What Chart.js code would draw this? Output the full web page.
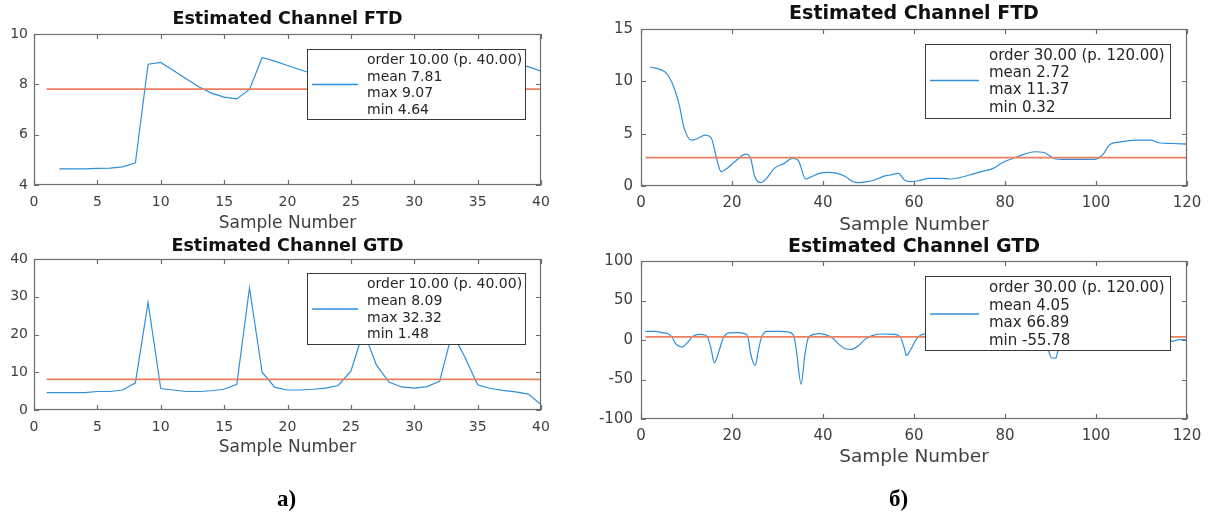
<!DOCTYPE html>
<html><head><meta charset="utf-8">
<script src="https://cdn.jsdelivr.net/npm/chart.js@4.4.0/dist/chart.umd.min.js"></script>
<style>
html,body{margin:0;padding:0;background:#fff;}
#wrap{position:relative;width:1210px;height:515px;overflow:hidden;background:#fff;}
canvas{position:absolute;left:0;top:0;}
.cap{position:absolute;font-family:"Liberation Serif","Times New Roman",serif;font-weight:bold;font-size:23px;line-height:23px;color:#000;}
</style></head>
<body><div id="wrap">
<canvas id="c1" width="1210" height="515"></canvas>
<canvas id="c2" width="1210" height="515"></canvas>
<canvas id="c3" width="1210" height="515"></canvas>
<canvas id="c4" width="1210" height="515"></canvas>
<div class="cap" style="left:277px;top:487px">а)</div>
<div class="cap" style="left:889px;top:487px">б)</div>
</div>
<script>
// ---- data ----
const titles = ['Estimated Channel FTD', 'Estimated Channel GTD', 'Estimated Channel FTD', 'Estimated Channel GTD'];
const xLabel = 'Sample Number';

// panel a) FTD
const ftdA_x = [2,3,4,5,6,7,8,9,10,11,12,13,14,15,16,17,18,19,20,21,22,23,24,25,26,27,28,29,30,31,32,33,34,35,36,37,38,39,40];
const ftdA_y = [4.64,4.64,4.64,4.66,4.67,4.72,4.88,8.80,8.87,8.55,8.22,7.90,7.65,7.49,7.42,7.80,9.07,8.92,8.75,8.58,8.42,8.28,8.12,7.95,8.90,8.80,8.65,8.50,8.35,8.20,8.05,8.95,8.90,8.85,8.80,8.76,8.73,8.70,8.52];
// panel a) GTD
const gtdA_x = [1,2,3,4,5,6,7,8,9,10,11,12,13,14,15,16,17,18,19,20,21,22,23,24,25,26,27,28,29,30,31,32,33,34,35,36,37,38,39,40];
const gtdA_y = [4.6,4.6,4.6,4.6,4.9,4.9,5.3,7.2,28.5,5.7,5.3,4.9,4.9,5.1,5.5,6.8,32.32,10.0,6.0,5.3,5.3,5.5,5.8,6.5,10.3,21.0,12.0,7.4,6.1,5.8,6.2,7.6,20.5,14.0,6.7,5.7,5.2,4.8,4.2,1.48];
// panel б) FTD
const ftdB_x = [2,5.5,7.2,8.5,9.4,11.1,12.4,14.1,15.4,16.7,17.6,18.9,20.2,21.9,23,24.1,25,26.3,27.6,29.3,31.5,33.2,34.5,36.2,37.5,39.2,41,43.1,44.9,46.6,47.9,49.6,51.4,53.1,54.8,56.6,57.9,59.2,60.9,63.5,66.1,67.8,70,72.2,74.8,77.4,79.5,81.7,84.3,86.5,88.6,90.8,93,97.3,99.5,101.6,102.9,105.5,108.6,112,113.8,116.8,120];
const ftdB_y = [11.37,10.8,9.46,7.55,5.65,4.38,4.54,4.86,4.63,2.48,1.37,1.68,2.16,2.8,3.05,2.63,0.9,0.32,0.73,1.68,2.16,2.63,2.48,0.67,0.9,1.2,1.3,1.2,0.9,0.41,0.33,0.41,0.57,0.9,1.05,1.2,0.57,0.41,0.5,0.73,0.73,0.67,0.8,1.05,1.37,1.68,2.25,2.63,3.05,3.27,3.2,2.63,2.54,2.54,2.54,3.05,3.9,4.22,4.38,4.38,4.13,4.06,4.0];
// panel б) GTD
const gtdB_x = [1,3.3,4.6,5.9,6.8,7.6,9.1,10.2,11.5,12.8,13.7,14.6,15.4,16.1,17.2,18,19.3,21.1,22.8,23.5,24.1,25.1,25.8,26.4,27.6,30.6,32.3,33.5,34.1,35.2,36,36.7,38,39.3,41,42.3,43.6,44.9,46.2,47.9,49.2,51,53.1,55.7,57,57.9,58.3,59.2,60.5,61.4,63,65,67,68.5,70,72,74,75,76,77.5,80,83,86,88,89,89.6,90.2,91.2,91.6,92.3,94,97,100,103,105,107,109,112,114.5,116.9,118.1,119.4,120];
const gtdB_y = [11,11,9.3,8,3.8,-4.7,-8.9,-3.4,5.1,7.2,6.8,3.8,-11,-28.8,-13,1.7,8.9,9.3,8,3.8,-17.4,-32,-13,1.7,11,11,10.2,5.9,-11,-55.78,-19.5,1.7,7.2,8,5.9,1.7,-5.9,-11,-11.9,-6.8,0.8,5.9,7.6,7.2,3.8,-11,-19.5,-13,0.8,5.9,8,7,2,-6,3,8,25,66.89,18,6,8,5,-4,3,-2,-14,-22.5,-23,-14,-2,6,9,9,5,-6,2,8,8,3,-1.7,0.4,0.4,-0.8];

// mean lines: [value, from, to]
const meanA_ftd = [7.81, 1, 40];
const meanA_gtd = [8.09, 1, 40];
const meanB_ftd = [2.72, 1, 120];
const meanB_gtd = [4.05, 1, 120];

// legend texts
const legendA_ftd = ['order 10.00 (p. 40.00)', 'mean 7.81', 'max 9.07', 'min 4.64'];
const legendA_gtd = ['order 10.00 (p. 40.00)', 'mean 8.09', 'max 32.32', 'min 1.48'];
const legendB_ftd = ['order 30.00 (p. 120.00)', 'mean 2.72', 'max 11.37', 'min 0.32'];
const legendB_gtd = ['order 30.00 (p. 120.00)', 'mean 4.05', 'max 66.89', 'min -55.78'];

// axis ranges: [min, max, step]
const xAxisA = [0, 40, 5];
const xAxisB = [0, 120, 20];
const yAxisA_ftd = [4, 10, 2];
const yAxisA_gtd = [0, 40, 10];
const yAxisB_ftd = [0, 15, 5];
const yAxisB_gtd = [-100, 100, 50];

// ---- rendering ----
const BLUE = '#2f8fd8';
const ORANGE = '#ea8060';
const FONT = '"DejaVu Sans", Verdana, sans-serif';

const panelPlugin = {
  id: 'panel',
  afterDatasetsDraw(chart, args, o) {
    const ctx = chart.ctx, a = chart.chartArea;
    const xs = chart.scales.x, ys = chart.scales.y;
    ctx.save();
    // box
    ctx.strokeStyle = '#6e6e6e';
    ctx.lineWidth = 1.2;
    ctx.strokeRect(a.left + 0.5, a.top + 0.5, a.right - a.left - 1, a.bottom - a.top - 1);
    // inward ticks
    const tl = o.tickLen;
    ctx.beginPath();
    xs.ticks.forEach(t => {
      const p = Math.round(xs.getPixelForValue(t.value)) + 0.5;
      ctx.moveTo(p, a.bottom); ctx.lineTo(p, a.bottom - tl);
      ctx.moveTo(p, a.top); ctx.lineTo(p, a.top + tl);
    });
    ys.ticks.forEach(t => {
      const p = Math.round(ys.getPixelForValue(t.value)) + 0.5;
      ctx.moveTo(a.left, p); ctx.lineTo(a.left + tl, p);
      ctx.moveTo(a.right, p); ctx.lineTo(a.right - tl, p);
    });
    ctx.stroke();
    // legend
    const L = o.legend;
    ctx.fillStyle = '#fff';
    ctx.fillRect(L.x, L.y, L.w, L.h);
    ctx.strokeStyle = '#3a3a3a';
    ctx.lineWidth = 1;
    ctx.strokeRect(L.x + 0.5, L.y + 0.5, L.w, L.h);
    ctx.strokeStyle = BLUE;
    ctx.lineWidth = 1.3;
    ctx.beginPath();
    ctx.moveTo(L.lx1, L.y + L.ly); ctx.lineTo(L.lx2, L.y + L.ly);
    ctx.stroke();
    ctx.fillStyle = '#262626';
    ctx.font = o.legendFont + 'px ' + FONT;
    ctx.textAlign = 'left';
    ctx.textBaseline = 'middle';
    L.rows.forEach((r, i) => ctx.fillText(r, L.tx, L.y + L.r0 + i * L.rs));
    // title
    const cx = (a.left + a.right) / 2;
    ctx.fillStyle = '#111';
    ctx.font = 'bold ' + o.titleFont + 'px ' + FONT;
    ctx.textAlign = 'center';
    ctx.fillText(o.title, cx, o.titleY);
    // x label
    ctx.fillStyle = '#404040';
    ctx.font = o.labelFont + 'px ' + FONT;
    ctx.fillText(xLabel, cx, o.labelY);
    ctx.restore();
  }
};

function pts(xs, ys) { return xs.map((x, i) => ({x: x, y: ys[i]})); }

function makeChart(id, p) {
  const A = p.area;
  new Chart(document.getElementById(id), {
    type: 'line',
    data: { datasets: [
      { data: [{x: p.mean[1], y: p.mean[0]}, {x: p.mean[2], y: p.mean[0]}], borderColor: ORANGE, borderWidth: 1.8, pointRadius: 0, order: 0 },
      { data: pts(p.xs, p.ys), borderColor: BLUE, borderWidth: 1.2, pointRadius: 0, order: 1,
        cubicInterpolationMode: p.smooth ? 'monotone' : 'default', tension: 0 }
    ]},
    options: {
      responsive: false, animation: false, devicePixelRatio: 1,
      layout: { padding: { left: 0, top: A[1], right: 1210 - A[2], bottom: 0 } },
      plugins: {
        legend: { display: false }, tooltip: { enabled: false }, title: { display: false },
        panel: p.panel
      },
      scales: {
        x: { type: 'linear', min: p.xr[0], max: p.xr[1],
             ticks: { stepSize: p.xr[2], autoSkip: false, maxRotation: 0, color: '#404040', padding: p.xpad, font: { family: FONT, size: p.tickFont } },
             grid: { display: false, drawTicks: false }, border: { display: false },
             afterFit(s) { s.height = 515 - A[3]; } },
        y: { type: 'linear', min: p.yr[0], max: p.yr[1],
             ticks: { stepSize: p.yr[2], autoSkip: false, color: '#404040', padding: p.ypad, font: { family: FONT, size: p.tickFont } },
             grid: { display: false, drawTicks: false }, border: { display: false },
             afterFit(s) { s.width = A[0]; } }
      }
    },
    plugins: [panelPlugin]
  });
}

makeChart('c1', { area: [34, 34, 541, 185], xs: ftdA_x, ys: ftdA_y, mean: meanA_ftd, xr: xAxisA, yr: yAxisA_ftd,
  tickFont: 14, xpad: 9, ypad: 6, smooth: false,
  panel: { tickLen: 5, title: titles[0], titleY: 19, titleFont: 17.5, labelY: 224, labelFont: 17, legendFont: 14,
    legend: { x: 307, y: 49, w: 218, h: 70, lx1: 312, lx2: 358, ly: 35.5, tx: 367, r0: 11.5, rs: 16.5, rows: legendA_ftd } } });

makeChart('c2', { area: [34, 259, 541, 410], xs: gtdA_x, ys: gtdA_y, mean: meanA_gtd, xr: xAxisA, yr: yAxisA_gtd,
  tickFont: 14, xpad: 9, ypad: 6, smooth: false,
  panel: { tickLen: 5, title: titles[1], titleY: 246, titleFont: 17.5, labelY: 448, labelFont: 17, legendFont: 14,
    legend: { x: 307, y: 273, w: 218, h: 71, lx1: 312, lx2: 358, ly: 36, tx: 367, r0: 11.5, rs: 16.7, rows: legendA_gtd } } });

makeChart('c3', { area: [641, 29, 1187, 186], xs: ftdB_x, ys: ftdB_y, mean: meanB_ftd, xr: xAxisB, yr: yAxisB_ftd,
  tickFont: 15, xpad: 8, ypad: 8, smooth: true,
  panel: { tickLen: 5, title: titles[2], titleY: 14, titleFont: 19, labelY: 225, labelFont: 18.5, legendFont: 15,
    legend: { x: 925, y: 44, w: 245, h: 74, lx1: 930, lx2: 979, ly: 36.5, tx: 989, r0: 11.8, rs: 17.4, rows: legendB_ftd } } });

makeChart('c4', { area: [641, 261, 1187, 419], xs: gtdB_x, ys: gtdB_y, mean: meanB_gtd, xr: xAxisB, yr: yAxisB_gtd,
  tickFont: 15, xpad: 8, ypad: 8, smooth: true,
  panel: { tickLen: 5, title: titles[3], titleY: 247.5, titleFont: 19, labelY: 457, labelFont: 18.5, legendFont: 15,
    legend: { x: 925, y: 276, w: 245, h: 74, lx1: 930, lx2: 979, ly: 38, tx: 989, r0: 12.3, rs: 17.6, rows: legendB_gtd } } });
</script>
</body></html>
